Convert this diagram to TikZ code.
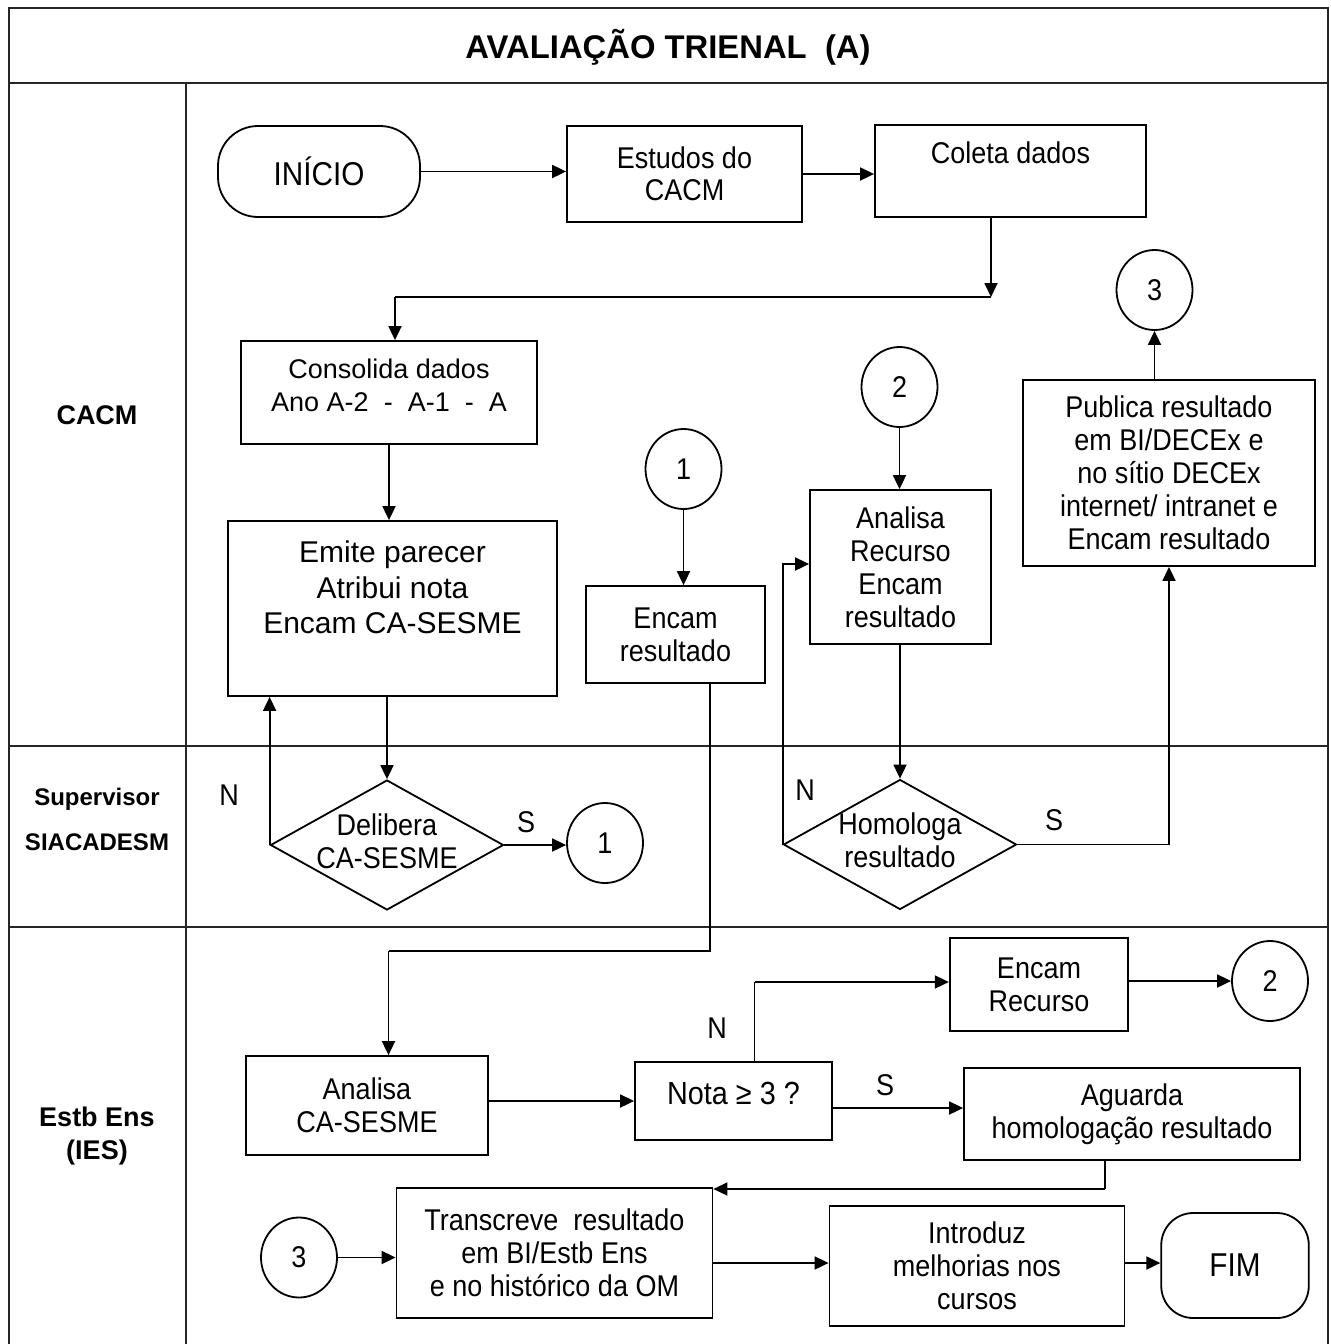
\documentclass[tikz,border=0pt]{standalone}
\usepackage{fontspec}
\setmainfont{Liberation Sans}
\newfontfamily\nfont{Liberation Sans}[FakeStretch=0.9]
\usetikzlibrary{arrows.meta,shapes.geometric}
\newcommand\fsmain{\nfont\fontsize{15pt}{16.5pt}\selectfont}
\newcommand\fsbig{\nfont\fontsize{16.5pt}{18pt}\selectfont}
\newcommand\fsemite{\fontsize{15pt}{17.75pt}\selectfont}
\begin{document}
\begin{tikzpicture}[x=0.5pt,y=-0.5pt,
  frame/.style={line width=1.1pt, draw=black!85},
  box/.style={draw, line width=0.9pt, rectangle, align=center, inner sep=2pt, font=\fsmain},
  term/.style={box, rounded corners=20pt},
  conn/.style={draw, line width=0.9pt, ellipse, minimum width=38pt, minimum height=40pt, inner sep=0pt, font=\fsmain},
  dec/.style={draw, line width=0.9pt, diamond, minimum width=116.5pt, minimum height=65pt, inner sep=0pt},
  lane/.style={font=\bfseries\fontsize{13.5pt}{16.5pt}\selectfont, align=center},
  lab/.style={font=\fsmain},
  ln/.style={line width=0.9pt},
  arr/.style={line width=0.9pt, -{Triangle[length=7pt,width=6.5pt]}}
]
\useasboundingbox (0,0) rectangle (1331,1344);

% frame
\draw[frame] (9,1344) -- (9,8) -- (1328,8) -- (1328,1344);
\draw[frame] (9,83) -- (1328,83);
\draw[frame] (186,83) -- (186,1344);
\draw[frame] (9,746) -- (1328,746);
\draw[frame] (9,927) -- (1328,927);

\node[font=\bfseries\fontsize{16.4pt}{20pt}\selectfont] (title) at (668,47) {AVALIAÇÃO TRIENAL \ (A)};
\node[lane] (lcacm) at (97,415) {CACM};
\node[lane, font=\bfseries\fontsize{12pt}{22.5pt}\selectfont] (lsup) at (97,819) {Supervisor\\SIACADESM};
\node[lane] (lestb) at (97,1136) {Estb Ens\\(IES)};

% CACM lane
\node[term, minimum width=101pt, minimum height=45.5pt, font=\fsbig] (inicio) at (319,171.5) {INÍCIO};
\node[box, minimum width=117.5pt, minimum height=48pt, font=\nfont\fontsize{15pt}{16pt}\selectfont] (estudos) at (684.5,174) {Estudos do\\CACM};
\node[box, minimum width=135.5pt, minimum height=46pt, label={[font=\fsmain, yshift=9pt]center:Coleta dados}] (coleta) at (1010.5,171) {};
\node[box, minimum width=148pt, minimum height=51.5pt, label={[font=\fsemite, font=\fontsize{13.5pt}{16.5pt}\selectfont, align=center, yshift=3.5pt]center:Consolida dados\\Ano A-2 \ - \ A-1 \ - \ A}] (consolida) at (389,392.5) {};
\node[box, minimum width=164.5pt, minimum height=87.5pt, label={[font=\fsemite, align=center, yshift=10.5pt]center:Emite parecer\\Atribui nota\\Encam CA-SESME}] (emite) at (392.5,608.5) {};
\node[conn] (c1t) at (683.5,469) {1};
\node[box, minimum width=89.5pt, minimum height=48.5pt] (enc1) at (675.5,634.5) {Encam\\resultado};
\node[conn] (c2t) at (899.5,387) {2};
\node[box, minimum width=90.5pt, minimum height=77pt] (anrec) at (900.5,567) {Analisa\\Recurso\\Encam\\resultado};
\node[box, minimum width=146pt, minimum height=93pt] (publ) at (1169,473) {Publica resultado\\em BI/DECEx e\\no sítio DECEx\\internet/ intranet e\\Encam resultado};
\node[conn] (c3t) at (1154.5,290) {3};

% Supervisor lane
\node[dec, label={[font=\fsmain, align=center, yshift=2pt]center:Delibera\\CA-SESME}] (delib) at (387,845) {};
\node[conn] (c1b) at (605,843) {1};
\node[dec, label={[font=\fsmain, align=center, yshift=2pt]center:Homologa\\resultado}] (homol) at (900,844.5) {};

% Estb Ens lane
\node[box, minimum width=121pt, minimum height=49.5pt] (anca) at (367,1105.5) {Analisa\\CA-SESME};
\node[box, minimum width=98.5pt, minimum height=39pt, label={[font=\nfont\fontsize{16pt}{17pt}\selectfont, yshift=4pt]center:Nota ≥ 3 ?}] (nota) at (733.5,1101) {};
\node[box, minimum width=89.25pt, minimum height=46.5pt] (encrec) at (1039,984.5) {Encam\\Recurso};
\node[conn] (c2b) at (1270,981) {2};
\node[box, minimum width=168pt, minimum height=46pt] (aguarda) at (1132,1114) {Aguarda\\homologação resultado};
\node[conn] (c3b) at (299,1257.5) {3};
\node[box, minimum width=158pt, minimum height=65pt] (trans) at (554.5,1253) {Transcreve \ resultado\\em BI/Estb Ens\\e no histórico da OM};
\node[box, minimum width=147.5pt, minimum height=60pt] (introd) at (977,1266) {Introduz\\melhorias nos\\cursos};
\node[box, rounded corners=16pt, minimum width=73.75pt, minimum height=52.5pt, font=\fsbig] (fim) at (1235,1265.5) {FIM};

% labels
\node[lab] (n1) at (229,795) {N};
\node[lab] (s1) at (526,822) {S};
\node[lab] (n2l) at (805,790) {N};
\node[lab] (s2) at (1054,820) {S};
\node[lab] (n3l) at (717,1028) {N};
\node[lab] (s3l) at (885,1085) {S};

% connectors
\draw[arr] (inicio.east) -- (inicio.east -| estudos.west);
\draw[arr] (estudos.east) -- (estudos.east -| coleta.west);
\coordinate (j1) at (991,297);
\coordinate (j1b) at (395,297);
\draw[arr] (coleta.south -| j1) -- (j1);
\draw[ln] (j1) -- (j1b);
\draw[arr] (j1b) -- (j1b |- consolida.north);
\draw[arr] (consolida.south) -- (consolida.south |- emite.north);
\draw[arr] (emite.south -| delib.north) -- (delib.north);
\draw[arr] (delib.west) -- (delib.west |- emite.south);
\draw[arr] (delib.east) -- (delib.east -| c1b.west);
\draw[arr] (c1t.south) -- (c1t.south |- enc1.north);
\coordinate (k1) at (710,951);
\coordinate (k2) at (388.5,951);
\draw[ln] (enc1.south -| k1) -- (k1) -- (k2);
\draw[arr] (k2) -- (k2 |- anca.north);
\draw[arr] (anca.east |- nota.west) -- (nota.west);
\coordinate (n3) at (754.5,982);
\draw[ln] (nota.north -| n3) -- (n3);
\draw[arr] (n3) -- (n3 -| encrec.west);
\draw[arr] (encrec.east |- c2b) -- (c2b.west);
\coordinate (s3) at (0,1108);
\draw[arr] (nota.east |- s3) -- (aguarda.west |- s3);
\coordinate (g1) at (1105,1189);
\draw[ln] (aguarda.south -| g1) -- (g1);
\draw[arr] (g1) -- (g1 -| trans.east);
\draw[arr] (c3b.east) -- (c3b.east -| trans.west);
\coordinate (t3) at (0,1263);
\draw[arr] (trans.east |- t3) -- (introd.west |- t3);
\draw[arr] (introd.east |- t3) -- (fim.west |- t3);
\draw[arr] (c2t.south) -- (c2t.south |- anrec.north);
\draw[arr] (anrec.south -| homol.north) -- (homol.north);
\coordinate (n2) at (784.5,564);
\draw[arr] (homol.west) -- (homol.west |- n2) -- (n2 -| anrec.west);
\draw[arr] (homol.east) -| (publ.south);
\draw[arr] (publ.north -| c3t) -- (c3t.south);
\end{tikzpicture}
\end{document}
